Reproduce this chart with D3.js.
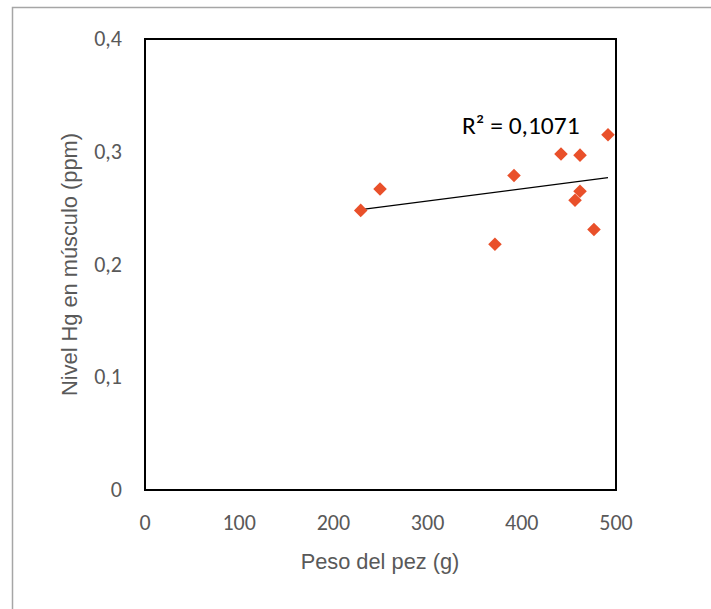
<!DOCTYPE html>
<html lang="es">
	<head>
		<meta charset="utf-8">
		<title>Hg vs peso</title>
		<script type="text/javascript" src="https://cdn.jsdelivr.net/npm/d3@7/dist/d3.min.js"></script>
		<style type="text/css">
			body{
				margin: 0;
				background: #fff;
			}
		</style>
	</head>
	<body>
		<script type="text/javascript">

			// Datos
			var peso = [229, 249.5, 371.5, 391.7, 441.6, 461.8, 461.8, 456.5, 476.6, 491.5];   // g
			var nivelHg = [0.248, 0.267, 0.218, 0.279, 0.298, 0.297, 0.265, 0.257, 0.231, 0.315]; // ppm
			var xTicks = [0, 100, 200, 300, 400, 500];
			var yTicks = [0, 0.1, 0.2, 0.3, 0.4];
			var r2Label = "R² = 0,1071";

			var W = 711, H = 609;
			var plotL = 145, plotR = 616, plotT = 39, plotB = 490;

			var svg = d3.select("body")
						.append("svg")
						.attr("width", W)
						.attr("height", H);

			// marco exterior gris
			svg.append("path")
				.attr("d", "M12.5," + H + "V7.5H" + W)
				.attr("fill", "none")
				.attr("stroke", "#a6a6a6")
				.attr("stroke-width", 1.5);

			var x = d3.scaleLinear().domain([0, 500]).range([plotL, plotR]);
			var y = d3.scaleLinear().domain([0, 0.4]).range([plotB, plotT]);

			var fmt = function(d) { return String(d).replace(".", ","); };

			// etiquetas de ejes
			svg.append("g")
				.selectAll("text")
				.data(xTicks)
				.enter()
				.append("text")
				.attr("x", function(d) { return x(d); })
				.attr("y", 530)
				.attr("text-anchor", "middle")
				.attr("fill", "#595959")
				.attr("font-size", 22)
				.attr("font-family", "Carlito, 'Open Sans', sans-serif")
				.text(function(d) { return d; });

			svg.append("g")
				.selectAll("text")
				.data(yTicks)
				.enter()
				.append("text")
				.attr("x", 122)
				.attr("y", function(d) { return y(d) + 7; })
				.attr("text-anchor", "end")
				.attr("fill", "#595959")
				.attr("font-size", 22)
				.attr("font-family", "Carlito, 'Open Sans', sans-serif")
				.text(function(d) { return fmt(d); });

			// titulos
			svg.append("text")
				.attr("x", (plotL + plotR) / 2 - 0.5)
				.attr("y", 569)
				.attr("text-anchor", "middle")
				.attr("fill", "#595959")
				.attr("font-size", 21.8)
				.attr("font-family", "'Liberation Sans Narrow', 'Arial Narrow', sans-serif")
				.text("Peso del pez (g)");

			svg.append("text")
				.attr("transform", "translate(77," + ((plotT + plotB) / 2) + ") rotate(-90)")
				.attr("text-anchor", "middle")
				.attr("fill", "#595959")
				.attr("font-size", 21.8)
				.attr("font-family", "'Liberation Sans Narrow', 'Arial Narrow', sans-serif")
				.text("Nivel Hg en músculo (ppm)");

			// recta de tendencia (minimos cuadrados)
			var mx = d3.mean(peso), my = d3.mean(nivelHg);
			var sxy = d3.sum(peso, function(d, i) { return (d - mx) * (nivelHg[i] - my); });
			var sxx = d3.sum(peso, function(d) { return (d - mx) * (d - mx); });
			var b = sxy / sxx, a = my - b * mx;
			var ext = d3.extent(peso);

			svg.append("line")
				.attr("x1", x(ext[0]))
				.attr("y1", y(a + b * ext[0]))
				.attr("x2", x(ext[1]))
				.attr("y2", y(a + b * ext[1]))
				.attr("stroke", "#000")
				.attr("stroke-width", 1.3);

			// puntos (rombos)
			var diamond = d3.symbol().type(d3.symbolSquare).size(92);
			svg.append("g")
				.selectAll("path")
				.data(peso)
				.enter()
				.append("path")
				.attr("d", diamond)
				.attr("transform", function(d, i) { return "translate(" + x(d) + "," + y(nivelHg[i]) + ") rotate(45)"; })
				.attr("fill", "#e9502a");

			svg.append("text")
				.attr("x", 462)
				.attr("y", 134)
				.attr("fill", "#000")
				.attr("font-size", 25.5)
				.attr("font-family", "Carlito, 'Open Sans', sans-serif")
				.text(r2Label);

			// area de trazado
			svg.append("rect")
				.attr("x", plotL)
				.attr("y", plotT)
				.attr("width", plotR - plotL)
				.attr("height", plotB - plotT)
				.attr("fill", "none")
				.attr("stroke", "#000")
				.attr("stroke-width", 2);

		</script>
	</body>
</html>
